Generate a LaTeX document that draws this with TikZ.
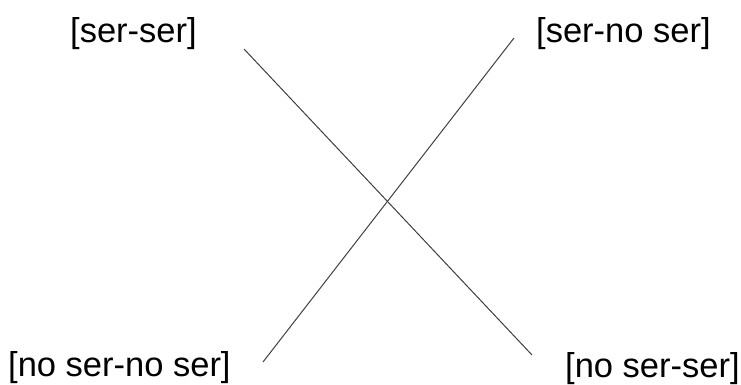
\documentclass[tikz,border=0pt]{standalone}
\usepackage{fontspec}
\setmainfont{Liberation Sans}
\begin{document}
\begin{tikzpicture}[x=1pt,y=-1pt,
  lbl/.style={anchor=base west,inner sep=0pt,font=\fontsize{34.5}{40}\selectfont},
  xline/.style={draw=black!75,line width=1pt}]
\useasboundingbox (0,0) rectangle (741,385);
\node[lbl] (ss) at (70,43) {[ser-ser]};
\node[lbl] (sns) at (536,42.5) {[ser-no ser]};
\node[lbl] (nsns) at (8,376) {[no ser-no ser]};
\node[lbl] (nss) at (565,377.5) {[no ser-ser]};
\coordinate (a1) at (244,49);
\coordinate (a2) at (532,355);
\coordinate (b1) at (514,38);
\coordinate (b2) at (263,362);
\draw[xline] (a1) -- (a2);
\draw[xline] (b1) -- (b2);
\end{tikzpicture}
\end{document}
